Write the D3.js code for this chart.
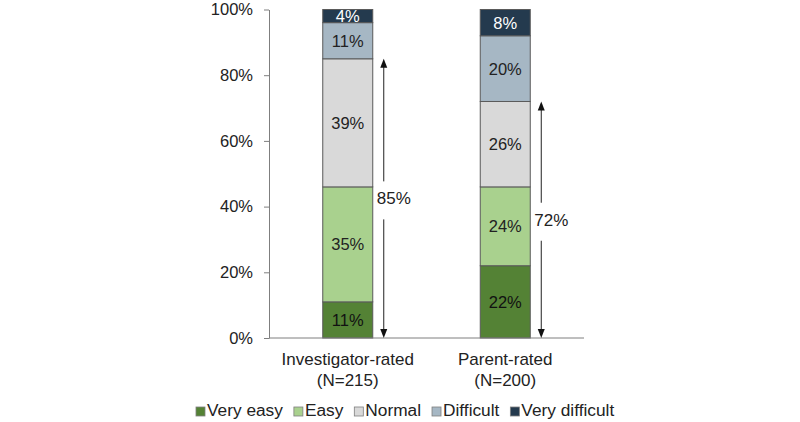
<!DOCTYPE html>
<html><head><meta charset="utf-8">
<script src="https://cdn.jsdelivr.net/npm/d3@7"></script>
<style>body{margin:0;background:#fff}svg{display:block;font-family:"Liberation Sans",Arial,sans-serif}</style>
</head><body><svg id="c" width="800" height="422"></svg>
<script>
const categories = ["Investigator-rated", "Parent-rated"];
const categorySub = ["(N=215)", "(N=200)"];
const levels = ["Very easy", "Easy", "Normal", "Difficult", "Very difficult"];
const veryEasy = [11, 22];
const easy = [35, 24];
const normal = [39, 26];
const difficult = [11, 20];
const veryDifficult = [4, 8];
const bracketTotals = [85, 72];
const yTicks = [0, 20, 40, 60, 80, 100];
const colors = ["#548235", "#a9d18e", "#d9d9d9", "#a6b7c4", "#243a4e"];
const textColors = ["#111", "#222", "#222", "#222", "#fff"];

const FS = 16.5;
const FL = 17;
const FG = 17.3;
const seriesVals = [veryEasy, easy, normal, difficult, veryDifficult];
const svg = d3.select("#c");
const x = d3.scaleBand().domain(categories).range([269, 584]).padding(0);
const y = d3.scaleLinear().domain([0, 100]).range([338, 9.5]);
const barW = 50;

// y axis
const yAxis = d3.axisLeft(y).tickValues(yTicks).tickFormat(d => d + "%").tickSize(5).tickSizeOuter(0);
const ga = svg.append("g").attr("transform", "translate(269,0)").call(yAxis);
ga.select(".domain").attr("stroke", "#7f7f7f");
ga.selectAll(".tick line").attr("stroke", "#7f7f7f");
ga.selectAll(".tick text").attr("font-size", FS).attr("fill", "#222").attr("x", -16).attr("font-family", "Liberation Sans, Arial, sans-serif");

// stacked data
const rows = categories.map((c, i) => {
  const r = {cat: c}; levels.forEach((l, j) => r[l] = seriesVals[j][i]); return r;
});
const stack = d3.stack().keys(levels)(rows);

stack.forEach((s, j) => {
  const g = svg.append("g");
  g.selectAll("rect").data(s).join("rect")
    .attr("x", d => x(d.data.cat) + x.bandwidth() / 2 - barW / 2)
    .attr("width", barW)
    .attr("y", d => y(d[1]))
    .attr("height", d => y(d[0]) - y(d[1]))
    .attr("fill", colors[j])
    .attr("stroke", "#5a5a5a").attr("stroke-width", 1);
  g.selectAll("text").data(s).join("text")
    .attr("x", d => x(d.data.cat) + x.bandwidth() / 2)
    .attr("y", d => (y(d[0]) + y(d[1])) / 2 + 6)
    .attr("text-anchor", "middle").attr("font-size", FS)
    .attr("fill", textColors[j])
    .text(d => (d[1] - d[0]) + "%");
});

// x axis
svg.append("line").attr("x1", 269).attr("x2", 584).attr("y1", y(0)).attr("y2", y(0)).attr("stroke", "#7f7f7f");

// category labels
categories.forEach((c, i) => {
  const cx = x(c) + x.bandwidth() / 2;
  svg.append("text").attr("x", cx).attr("y", 365).attr("text-anchor", "middle").attr("font-size", FL).attr("fill", "#222").text(c);
  svg.append("text").attr("x", cx).attr("y", 385.5).attr("text-anchor", "middle").attr("font-size", FL).attr("fill", "#222").text(categorySub[i]);
});

// brackets (arrows)
bracketTotals.forEach((t, i) => {
  const ax = x(categories[i]) + x.bandwidth() / 2 + barW / 2 + 11;
  const top = y(t), bot = y(0);
  const mid = y(t / 2);
  svg.append("line").attr("x1", ax).attr("x2", ax).attr("y1", top + 8).attr("y2", mid - 17).attr("stroke", "#222").attr("stroke-width", 1);
  svg.append("line").attr("x1", ax).attr("x2", ax).attr("y1", mid + 21).attr("y2", bot - 8).attr("stroke", "#222").attr("stroke-width", 1);
  svg.append("path").attr("d", `M${ax},${top} L${ax - 3.5},${top + 9} L${ax + 3.5},${top + 9} Z`).attr("fill", "#111");
  svg.append("path").attr("d", `M${ax},${bot} L${ax - 3.5},${bot - 9} L${ax + 3.5},${bot - 9} Z`).attr("fill", "#111");
  svg.append("text").attr("x", ax + 10).attr("y", mid + 6).attr("text-anchor", "middle").attr("font-size", FL).attr("fill", "#222").text(t + "%");
});

// legend
const legend = svg.append("g").attr("transform", "translate(196,416)");
let lx = 0;
levels.forEach((l, j) => {
  legend.append("rect").attr("x", lx).attr("y", -9).attr("width", 9).attr("height", 9).attr("fill", colors[j]).attr("stroke", "#7f7f7f").attr("stroke-width", 0.8);
  const t = legend.append("text").attr("x", lx + 11).attr("y", 0).attr("font-size", FG).attr("fill", "#222").text(l);
  lx += 11 + t.node().getComputedTextLength() + 11;
});
</script></body></html>
